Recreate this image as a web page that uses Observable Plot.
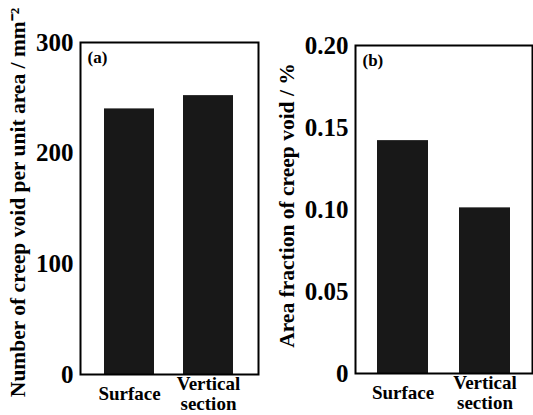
<!DOCTYPE html>
<html>
<head>
<meta charset="utf-8">
<script src="https://cdn.jsdelivr.net/npm/d3@7"></script>
<script src="https://cdn.jsdelivr.net/npm/@observablehq/plot@0.6"></script>
<style>
  html, body { margin: 0; padding: 0; background: #fff; }
  #wrap { display: flex; flex-direction: row; width: 533px; height: 415px; overflow: hidden; }
  svg { display: block; }
  svg, svg text { font-family: "Liberation Serif", "Times New Roman", serif !important; font-weight: bold; }
</style>
</head>
<body>
<div id="wrap"></div>
<script>
const categories = ["Surface", "Vertical section"];
const categoryLabels = ["Surface", "Vertical\nsection"];
const voidNumber = [240, 252];
const areaFraction = [0.142, 0.101];
const yTicksA = [0, 100, 200, 300];
const yTicksB = [0, 0.05, 0.10, 0.15, 0.20];
const tickLabelsB = ["0", "0.05", "0.10", "0.15", "0.20"];
const titleA = "Number of creep void per unit area / mm\u207B\u00B2";
const titleB = "Area fraction of creep void / %";
const panelA = "(a)";
const panelB = "(b)";

const font = "'Liberation Serif', 'Times New Roman', serif";
const barFill = "#181818";

function panel({width, margins, values, domain, ticks, tickFmt, title, titleDx, titleDy, tag, padIn, padOut}) {
  const table = categories.map((c, i) => ({category: c, label: categoryLabels[i], value: values[i]}));
  return Plot.plot({
    width, height: 415,
    marginLeft: margins[0], marginTop: margins[1], marginRight: margins[2], marginBottom: margins[3],
    style: {fontFamily: font, fontWeight: "bold", color: "#000", background: "#fff"},
    x: {type: "band", domain: categories, paddingInner: padIn, paddingOuter: padOut, axis: null},
    y: {domain, axis: null},
    marks: [
      Plot.barY(table, {x: "category", y: "value", fill: barFill}),
      Plot.axisY({ticks, tickSize: 0, tickPadding: 7, tickFormat: tickFmt, fontSize: 25, fontFamily: font, fontWeight: "bold", label: null}),
      Plot.text(table, {x: "category", text: "label", frameAnchor: "bottom", lineAnchor: "middle", dy: 19, fontSize: 19, fontFamily: font, fontWeight: "bold", lineHeight: 1.08}),
      Plot.text([title], {text: d => d, frameAnchor: "left", rotate: -90, dx: titleDx, dy: titleDy, fontSize: 21.5, fontFamily: font, fontWeight: "bold", textAnchor: "middle", lineAnchor: "middle"}),
      Plot.text([tag], {text: d => d, frameAnchor: "top-left", dx: 7, dy: 8, textAnchor: "start", lineAnchor: "top", fontSize: 17, fontFamily: font, fontWeight: "bold"}),
      Plot.frame({stroke: "#000", strokeWidth: 2})
    ]
  });
}

const a = panel({
  width: 267, margins: [80, 42, 9, 41], values: voidNumber, domain: [0, 300],
  ticks: yTicksA, tickFmt: d => String(d), title: titleA, titleDx: -62, titleDy: -6, tag: panelA,
  padIn: 0.3625, padOut: 0.294
});
const b = panel({
  width: 266, margins: [88, 45, 1, 42], values: areaFraction, domain: [0, 0.2],
  ticks: yTicksB, tickFmt: d => tickLabelsB[yTicksB.findIndex(t => Math.abs(t - d) < 1e-9)], title: titleB, titleDx: -68, titleDy: -4, tag: panelB,
  padIn: 0.378, padOut: 0.268
});
document.getElementById("wrap").append(a, b);
</script>
</body>
</html>
